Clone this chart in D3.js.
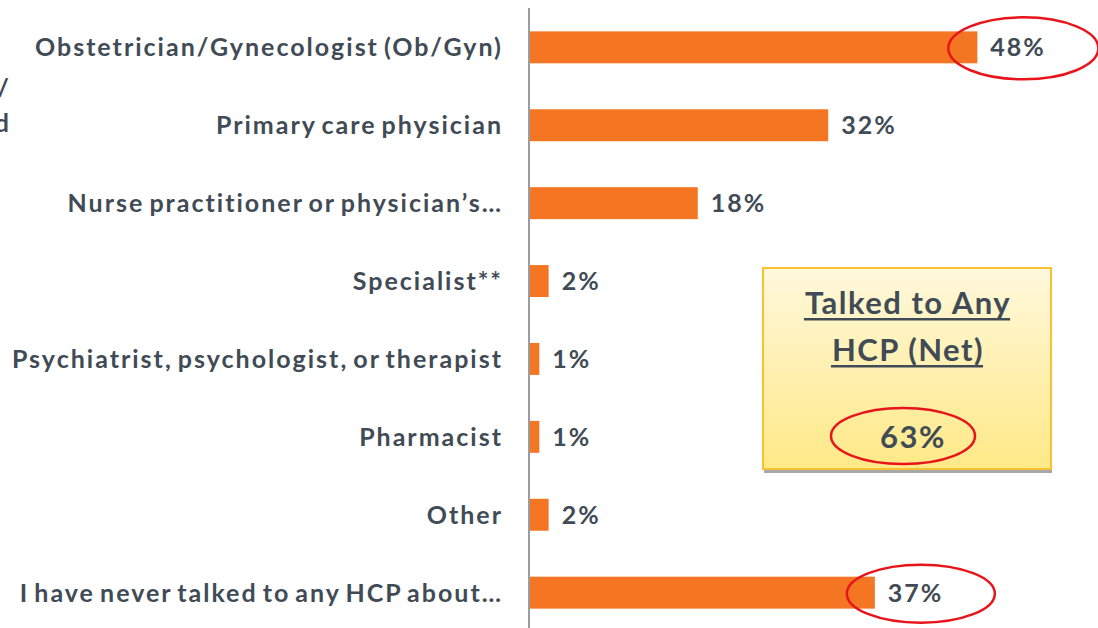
<!DOCTYPE html>
<html>
<head>
<meta charset="utf-8">
<script src="https://cdn.jsdelivr.net/npm/d3@7"></script>
<style>
  html, body { margin: 0; padding: 0; background: #fff; }
  svg { display: block; }
  text { font-family: Lato, "Open Sans", sans-serif; font-weight: 700; fill: #414b55; }
</style>
</head>
<body>
<svg id="chart" width="1098" height="628"></svg>
<script>
const categories = [
  'Obstetrician/Gynecologist (Ob/Gyn)',
  'Primary care physician',
  'Nurse practitioner or physician\u2019s\u2026',
  'Specialist**',
  'Psychiatrist, psychologist, or therapist',
  'Pharmacist',
  'Other',
  'I have never talked to any HCP about\u2026'
];
const values = [48, 32, 18, 2, 1, 1, 2, 37];
const circled = ['Obstetrician/Gynecologist (Ob/Gyn)', 'I have never talked to any HCP about\u2026'];
const netLabel = ['Talked to Any', 'HCP (Net)'];
const netValue = 63;

const svg = d3.select('#chart');
const W = 1098, H = 628;
const x0 = 530;

const x = d3.scaleLinear().domain([0, 10]).range([x0, x0 + 93.2]);
const y = d3.scaleBand().domain(categories).range([8, 632]).paddingInner(0.59).paddingOuter(0.3);

// cut-off text at left edge (the reference crops it too)
const side = svg.append('g').attr('text-anchor', 'end')
  .style('font-size', '25px').style('letter-spacing', '2px');
side.append('text').attr('x', 11).attr('y', 97).text('Healthcare provider /');
side.append('text').attr('x', 11).attr('y', 132).text('Talked');

// net box
const defs = svg.append('defs');
const grad = defs.append('linearGradient').attr('id', 'boxg').attr('x1', 0).attr('y1', 0).attr('x2', 0).attr('y2', 1);
grad.append('stop').attr('offset', '0%').attr('stop-color', '#fff8dc');
grad.append('stop').attr('offset', '100%').attr('stop-color', '#ffe987');

svg.append('rect').attr('x', 764).attr('y', 470).attr('width', 288).attr('height', 3).attr('fill', '#a8a8a8');
svg.append('rect')
  .attr('x', 763).attr('y', 268).attr('width', 288).attr('height', 201)
  .attr('fill', 'url(#boxg)').attr('stroke', '#f7c12f').attr('stroke-width', 2);

const box = svg.append('g').attr('text-anchor', 'middle')
  .style('font-size', '31px').style('letter-spacing', '1.5px');
netLabel.forEach((t, i) => {
  const tx = box.append('text').attr('x', 908).attr('y', 314 + i * 47).text(t);
  const w = tx.node().getComputedTextLength();
  box.append('rect').attr('x', 907 - w / 2).attr('y', 318 + i * 47).attr('width', w).attr('height', 2.5).attr('fill', '#414b55');
});
box.append('text').attr('x', 913).attr('y', 448).text(netValue + '%');
svg.append('ellipse').attr('cx', 903).attr('cy', 436).attr('rx', 72).attr('ry', 28)
  .attr('fill', 'none').attr('stroke', '#e8141b').attr('stroke-width', 2.5);

// axis line
svg.append('line').attr('x1', x0 - 1).attr('x2', x0 - 1).attr('y1', 8).attr('y2', H)
  .attr('stroke', '#9a9ea3').attr('stroke-width', 2);

// bars
svg.append('g').selectAll('rect').data(categories).join('rect')
  .attr('x', x0)
  .attr('y', d => y(d))
  .attr('width', (d, i) => x(values[i]) - x0)
  .attr('height', y.bandwidth())
  .attr('fill', '#f47622');

// category labels
svg.append('g').attr('text-anchor', 'end')
  .style('font-size', '25px').style('letter-spacing', '2px').style('word-spacing', '-3px')
  .selectAll('text').data(categories).join('text')
  .attr('x', 503)
  .attr('y', d => y(d) + y.bandwidth() / 2 + 9)
  .text(d => d);

// value labels
svg.append('g').style('font-size', '25px').style('letter-spacing', '2px')
  .selectAll('text').data(categories).join('text')
  .attr('x', (d, i) => x(values[i]) + 13)
  .attr('y', d => y(d) + y.bandwidth() / 2 + 9)
  .text((d, i) => values[i] + '%');

// red circles around key values
svg.append('g').selectAll('ellipse').data(circled).join('ellipse')
  .attr('cx', d => x(values[categories.indexOf(d)]) + 46)
  .attr('cy', d => y(d) + y.bandwidth() / 2 + 1)
  .attr('rx', (d, i) => i === 0 ? 75 : 74)
  .attr('ry', (d, i) => i === 0 ? 31 : 29)
  .attr('fill', 'none').attr('stroke', '#e8141b').attr('stroke-width', 2.5);
</script>
</body>
</html>
